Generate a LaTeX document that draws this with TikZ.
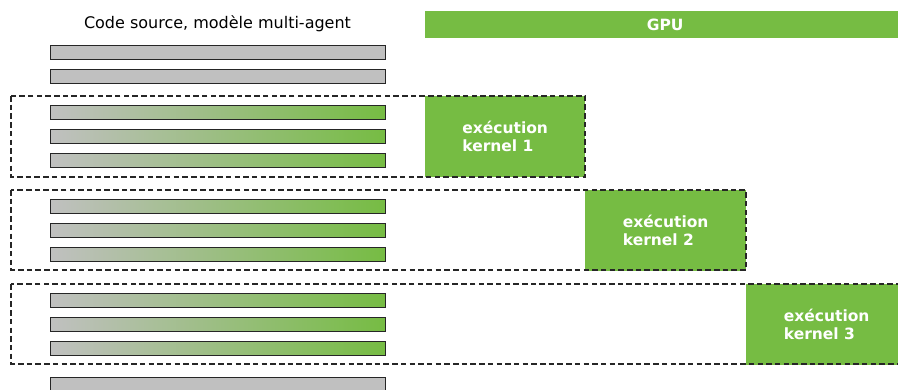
\documentclass[tikz,border=0pt]{standalone}
\usepackage{fontspec}
\setmainfont{DejaVu Sans}
\definecolor{gpugreen}{RGB}{118,188,67}
\definecolor{bargray}{RGB}{192,192,192}
\begin{document}
\begin{tikzpicture}[x=1pt,y=-1pt,
  graybar/.style={draw=black!85,line width=1.3pt,fill=bargray,inner sep=0,minimum width=335pt,minimum height=14pt,anchor=north west},
  gradbar/.style={draw=black!85,line width=1.3pt,left color=bargray,right color=gpugreen,inner sep=0,minimum width=335pt,minimum height=14pt,anchor=north west},
  kbox/.style={fill=gpugreen,inner sep=0,minimum width=#1,minimum height=81pt,anchor=north west},
  grp/.style={draw=black!85,line width=1.2pt,dash pattern=on 5.5pt off 3.2pt},
  ktext/.style={text=white,font=\fontsize{15.5}{18}\selectfont\bfseries,align=left,inner sep=0},
]
\useasboundingbox (0,0) rectangle (898,389);
\node[font=\fontsize{16}{19}\selectfont] (title) at (217.5,24) {Code source, modèle multi-agent};
\node[fill=gpugreen,inner sep=0,minimum width=480pt,minimum height=27pt,anchor=north west] (gpu) at (425,11) {};
\node[ktext] (gputext) at (gpu.center) {GPU};
% kernel boxes
\node[kbox=160pt] (k1) at (425,96) {};
\node[kbox=161pt] (k2) at (585,190) {};
\node[kbox=161pt] (k3) at (746,284) {};
\node[ktext] (t1) at (k1.center) {exécution\\kernel 1};
\node[ktext] (t2) at (k2.center) {exécution\\kernel 2};
\node[ktext] (t3) at (k3.center) {exécution\\kernel 3};
% bars
\node[graybar] (b1) at (50,45) {};
\node[graybar] (b2) at (50,69) {};
\node[gradbar] (b3) at (50,105) {};
\node[gradbar] (b4) at (50,129) {};
\node[gradbar] (b5) at (50,153) {};
\node[gradbar] (b6) at (50,199) {};
\node[gradbar] (b7) at (50,223) {};
\node[gradbar] (b8) at (50,247) {};
\node[gradbar] (b9) at (50,293) {};
\node[gradbar] (b10) at (50,317) {};
\node[gradbar] (b11) at (50,341) {};
\node[graybar] (b12) at (50,377) {};
% dashed groups
\draw[grp] (11,96) rectangle (585,177);
\draw[grp] (11,190) rectangle (746,270);
\draw[grp] (11,284) rectangle (907,364);
\end{tikzpicture}
\end{document}
